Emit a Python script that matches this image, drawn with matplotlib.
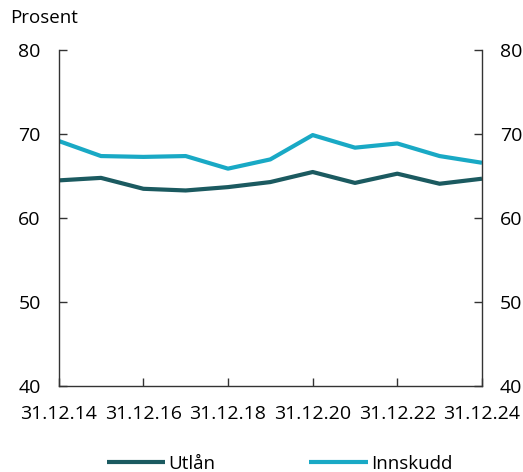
import matplotlib.pyplot as plt
import matplotlib.dates as mdates
import pandas as pd

# Data
dates = pd.to_datetime([f"{y}-12-31" for y in range(2014, 2025)])
utlan = [64.5, 64.8, 63.5, 63.3, 63.7, 64.3, 65.5, 64.2, 65.3, 64.1, 64.7]
innskudd = [69.2, 67.4, 67.3, 67.4, 65.9, 67.0, 69.9, 68.4, 68.9, 67.4, 66.6]
tick_dates = pd.to_datetime([f"{y}-12-31" for y in range(2014, 2025, 2)])

plt.rcParams["font.family"] = ["Open Sans", "DejaVu Sans"]

fig = plt.figure(figsize=(5.23, 4.72), dpi=100)
ax = fig.add_axes([0.1122, 0.1822, 0.8094, 0.7112])

ax.plot(dates, utlan, color="#1b5a60", lw=3, label="Utlån",
        solid_capstyle="butt")
ax.plot(dates, innskudd, color="#19a9c5", lw=3, label="Innskudd",
        solid_capstyle="butt")

ax.set_xlim(dates[0], dates[-1])
ax.set_ylim(40, 80)
ax.set_yticks([40, 50, 60, 70, 80])
ax.set_xticks(tick_dates)
ax.xaxis.set_major_formatter(mdates.DateFormatter("%d.%m.%y"))

# Spines og ticks
ax.spines["top"].set_visible(False)
for s in ["left", "right", "bottom"]:
    ax.spines[s].set_color("#333333")
    ax.spines[s].set_linewidth(1)
ax.tick_params(axis="y", direction="in", length=6, width=1, color="#333333",
               labelsize=14, left=True, right=True, labelleft=True,
               labelright=True, pad=13)
ax.tick_params(axis="x", direction="in", length=6, width=1, color="#333333",
               labelsize=14, pad=14)

fig.text(0.019, 0.962, "Prosent", fontsize=13.5, va="center", ha="left")

fig.legend(loc="lower center", ncol=2, frameon=False, fontsize=13.5,
           bbox_to_anchor=(0.535, -0.038), handlelength=3.1, handletextpad=0.2,
           columnspacing=5.0)

plt.savefig("out.png", dpi=100)
